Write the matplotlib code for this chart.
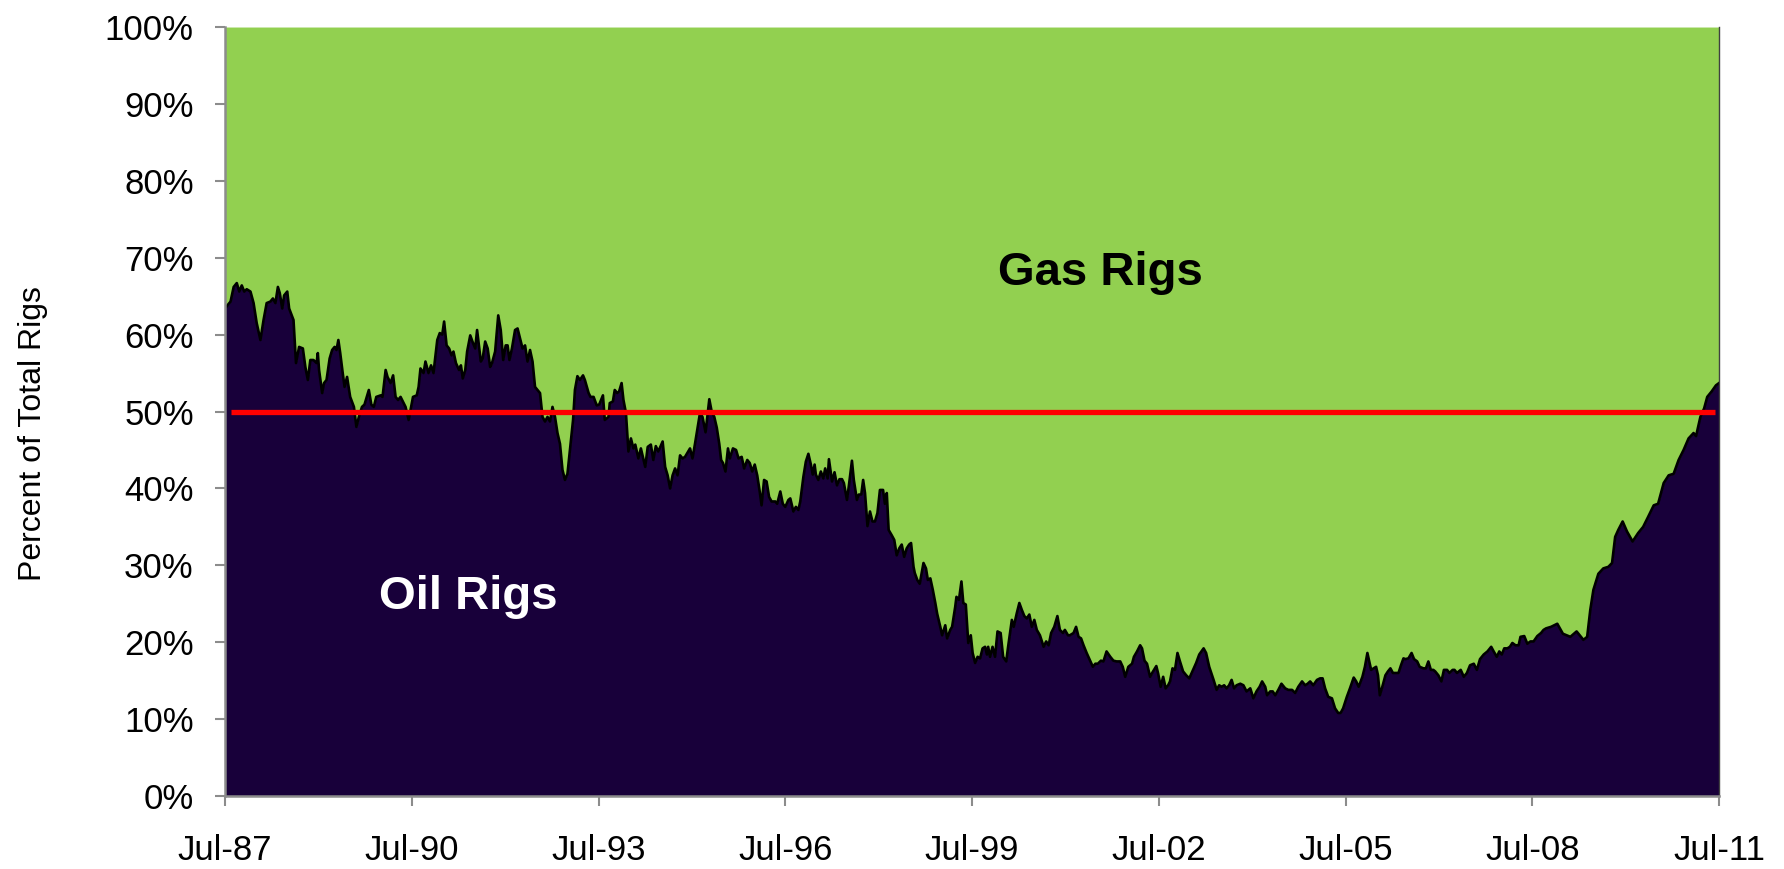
import matplotlib
matplotlib.use('Agg')
import matplotlib.pyplot as plt
import matplotlib.dates as mdates
from matplotlib.ticker import FixedLocator, FuncFormatter
from datetime import datetime

# ---- data (decimal year, oil rigs as % of total rigs) ----
dec_years = [
    1987.50, 1987.52, 1987.59, 1987.64, 1987.69, 1987.73, 1987.77, 1987.81, 1987.85, 1987.91,
    1987.96, 1988.01, 1988.07, 1988.12, 1988.17, 1988.23, 1988.27, 1988.31, 1988.35, 1988.38,
    1988.42, 1988.45, 1988.50, 1988.53, 1988.60, 1988.64, 1988.69, 1988.75, 1988.79, 1988.83,
    1988.87, 1988.92, 1988.97, 1988.99, 1989.01, 1989.06, 1989.09, 1989.13, 1989.18, 1989.22,
    1989.26, 1989.29, 1989.32, 1989.35, 1989.39, 1989.42, 1989.46, 1989.51, 1989.57, 1989.61,
    1989.65, 1989.70, 1989.74, 1989.81, 1989.85, 1989.89, 1989.93, 1990.00, 1990.03, 1990.08,
    1990.11, 1990.16, 1990.20, 1990.24, 1990.28, 1990.32, 1990.40, 1990.45,
    1990.52, 1990.58, 1990.61, 1990.64, 1990.69, 1990.72, 1990.77, 1990.81, 1990.85, 1990.87,
    1990.91, 1990.95, 1990.99, 1991.02, 1991.06, 1991.10, 1991.14, 1991.17, 1991.21, 1991.26,
    1991.29, 1991.32, 1991.36, 1991.39, 1991.44, 1991.48, 1991.52, 1991.55, 1991.61, 1991.64,
    1991.68, 1991.72, 1991.76, 1991.79, 1991.84, 1991.89, 1991.93, 1991.97, 1992.01, 1992.04,
    1992.07, 1992.11, 1992.16, 1992.20, 1992.24, 1992.28, 1992.32, 1992.36, 1992.40, 1992.44,
    1992.48, 1992.52, 1992.56, 1992.60, 1992.64, 1992.68, 1992.72, 1992.76, 1992.80, 1992.84,
    1992.88, 1992.92, 1992.96, 1993.00, 1993.04, 1993.09, 1993.12, 1993.16, 1993.20, 1993.25,
    1993.28, 1993.34, 1993.37, 1993.42, 1993.47, 1993.51,
    1993.57, 1993.60, 1993.66, 1993.68, 1993.73, 1993.76, 1993.80, 1993.83, 1993.87, 1993.90,
    1993.94, 1993.98, 1994.02, 1994.06, 1994.09, 1994.14, 1994.18, 1994.25, 1994.29, 1994.34,
    1994.38, 1994.42, 1994.46, 1994.53, 1994.57, 1994.61, 1994.65, 1994.69, 1994.73, 1994.77,
    1994.81, 1994.85, 1994.89, 1994.97, 1995.01, 1995.05, 1995.09, 1995.13, 1995.17, 1995.22,
    1995.25, 1995.28, 1995.32, 1995.36, 1995.40, 1995.44, 1995.47, 1995.50, 1995.54, 1995.58,
    1995.61, 1995.66, 1995.71, 1995.75, 1995.80, 1995.84, 1995.89, 1995.93, 1995.97, 1996.01,
    1996.05, 1996.09, 1996.12, 1996.16, 1996.20, 1996.24, 1996.28, 1996.34, 1996.37, 1996.42,
    1996.46, 1996.50, 1996.55,
    1996.58, 1996.63, 1996.67, 1996.71, 1996.74, 1996.79, 1996.83, 1996.87, 1996.91, 1996.94,
    1996.97, 1996.99, 1997.03, 1997.07, 1997.11, 1997.14, 1997.18, 1997.20, 1997.25, 1997.29,
    1997.33, 1997.37, 1997.41, 1997.44, 1997.49, 1997.52, 1997.57, 1997.60, 1997.65, 1997.68,
    1997.72, 1997.75, 1997.78, 1997.82, 1997.86, 1997.90, 1997.94, 1997.98, 1998.02, 1998.07,
    1998.10, 1998.13, 1998.16, 1998.21, 1998.25, 1998.29, 1998.33, 1998.37, 1998.41, 1998.45,
    1998.49, 1998.52, 1998.56, 1998.58, 1998.62, 1998.66, 1998.72, 1998.76, 1998.79, 1998.83,
    1998.87, 1998.91, 1998.94, 1998.99, 1999.02, 1999.07, 1999.10, 1999.15, 1999.18, 1999.23,
    1999.25, 1999.29, 1999.33, 1999.36, 1999.40, 1999.44, 1999.48, 1999.51, 1999.55, 1999.59,
    1999.63, 1999.67, 1999.71, 1999.74, 1999.76, 1999.79, 1999.83, 1999.87, 1999.91, 1999.96,
    2000.00, 2000.05, 2000.08, 2000.14, 2000.17, 2000.22, 2000.26, 2000.30, 2000.34, 2000.38,
    2000.42, 2000.46, 2000.50, 2000.54, 2000.59, 2000.65, 2000.69, 2000.73, 2000.77, 2000.82,
    2000.87, 2000.91, 2000.96, 2000.99, 2001.04, 2001.07, 2001.13, 2001.17, 2001.21, 2001.25,
    2001.29, 2001.34, 2001.40, 2001.44, 2001.48, 2001.52, 2001.57, 2001.61, 2001.66, 2001.72,
    2001.77, 2001.82, 2001.88, 2001.92, 2001.96, 2002.01, 2002.07, 2002.10, 2002.15, 2002.20,
    2002.23, 2002.27, 2002.31, 2002.36, 2002.40, 2002.46, 2002.49, 2002.53, 2002.57, 2002.61,
    2002.65,
    2002.68, 2002.72, 2002.76, 2002.80, 2002.84, 2002.89, 2002.94, 2002.99, 2003.05, 2003.10,
    2003.15, 2003.22, 2003.26, 2003.31, 2003.38, 2003.43, 2003.47, 2003.51, 2003.55, 2003.59,
    2003.63, 2003.67, 2003.71, 2003.75, 2003.81, 2003.86, 2003.91, 2003.97, 2004.02, 2004.07,
    2004.12, 2004.16, 2004.21, 2004.24, 2004.29, 2004.33, 2004.37, 2004.42, 2004.47, 2004.53,
    2004.58, 2004.64, 2004.69, 2004.74, 2004.80, 2004.85, 2004.89, 2004.93, 2004.98, 2005.04,
    2005.09, 2005.13, 2005.17, 2005.22, 2005.28, 2005.33, 2005.38, 2005.42, 2005.46, 2005.52,
    2005.57, 2005.63, 2005.67, 2005.71,
    2005.77, 2005.81, 2005.85, 2005.88, 2005.91, 2005.95, 2005.99, 2006.02, 2006.05, 2006.09,
    2006.14, 2006.18, 2006.22, 2006.26, 2006.31, 2006.35, 2006.39, 2006.43, 2006.46, 2006.51,
    2006.56, 2006.60, 2006.65, 2006.69, 2006.75, 2006.79, 2006.83, 2006.87, 2006.91, 2006.94,
    2006.99, 2007.04, 2007.08, 2007.13, 2007.17, 2007.22, 2007.25, 2007.29, 2007.35, 2007.40,
    2007.45, 2007.50, 2007.56, 2007.61, 2007.66, 2007.72, 2007.78, 2007.84, 2007.88, 2007.93,
    2007.97, 2008.01, 2008.05, 2008.10, 2008.14, 2008.18, 2008.23, 2008.28, 2008.31, 2008.37,
    2008.42, 2008.47, 2008.52, 2008.58, 2008.64, 2008.68, 2008.72, 2008.80,
    2008.90, 2008.99, 2009.11, 2009.21, 2009.32, 2009.38, 2009.43, 2009.48, 2009.56, 2009.64,
    2009.72, 2009.78, 2009.83, 2009.88, 2009.95, 2010.02, 2010.11, 2010.20, 2010.28, 2010.36,
    2010.45, 2010.52, 2010.61, 2010.69, 2010.77, 2010.85, 2010.93, 2011.01, 2011.09, 2011.13,
    2011.20, 2011.26, 2011.31, 2011.38, 2011.45, 2011.50,
]

oil_share = [
    63.5, 63.6, 64.3, 66.2, 66.7, 65.6, 66.4, 65.6, 65.9, 65.6,
    64.1, 61.5, 59.3, 61.9, 64.1, 64.3, 64.7, 64.1, 66.2, 65.4,
    63.4, 65.1, 65.6, 63.4, 61.9, 56.3, 58.4, 58.2, 55.8, 54.1,
    56.7, 56.7, 56.3, 57.6, 55.4, 52.4, 53.7, 54.1, 56.9, 58.0,
    58.4, 58.0, 59.3, 57.6, 55.0, 53.2, 54.5, 51.9, 50.6, 48.0,
    49.3, 50.6, 50.9, 52.8, 50.9, 50.6, 51.9, 52.1, 51.9, 55.4,
    54.5, 53.7, 54.7, 51.9, 51.5, 51.9, 50.6, 48.9,
    51.9, 52.1, 53.2, 55.6, 55.0, 56.5, 55.0, 56.0, 55.0, 56.5,
    59.3, 60.2, 60.0, 61.7, 58.6, 58.2, 57.3, 57.8, 56.3, 55.4,
    56.0, 54.3, 55.4, 57.8, 59.9, 59.0, 58.2, 60.6, 56.5, 56.9,
    59.1, 58.2, 55.8, 56.3, 57.8, 62.5, 60.6, 56.7, 58.6, 58.6,
    56.7, 58.2, 60.6, 60.8, 59.5, 58.2, 58.6, 56.5, 58.0, 56.5,
    53.2, 52.8, 52.4, 49.3, 48.7, 49.3, 48.7, 50.6, 49.3, 47.2,
    45.8, 42.4, 41.1, 41.9, 45.0, 48.9, 52.8, 54.6, 54.1, 54.7,
    54.1, 52.4, 51.9, 51.9, 50.8, 50.9,
    52.1, 48.9, 49.3, 51.1, 51.3, 52.8, 52.4, 52.6, 53.7, 51.5,
    49.8, 44.8, 46.5, 45.2, 45.7, 43.9, 45.2, 42.8, 45.4, 45.7,
    43.7, 45.5, 44.8, 46.1, 42.8, 41.7, 40.0, 41.7, 42.6, 41.7,
    44.3, 43.9, 44.1, 45.2, 43.9, 45.8, 47.8, 49.8, 49.3, 47.3,
    49.5, 51.6, 49.9, 49.3, 47.9, 45.8, 43.7, 43.3, 42.2, 45.2,
    43.9, 45.2, 45.0, 43.9, 44.1, 42.6, 43.7, 43.3, 42.2, 43.1,
    41.7, 39.6, 37.8, 41.1, 40.9, 38.9, 38.3, 38.3, 38.0, 39.6,
    38.0, 37.6, 38.5,
    38.7, 37.0, 37.6, 37.2, 38.3, 41.5, 43.5, 44.5, 43.1, 41.8,
    43.1, 41.8, 41.1, 42.2, 41.3, 42.6, 41.3, 43.8, 40.9, 42.1,
    40.4, 41.2, 41.2, 40.7, 38.5, 40.3, 43.6, 41.1, 38.5, 39.2,
    39.2, 41.1, 39.4, 35.1, 37.0, 35.7, 35.7, 36.8, 39.8, 39.8,
    38.0, 39.4, 34.6, 33.9, 33.3, 31.3, 32.2, 32.7, 31.1, 32.2,
    32.7, 32.9, 29.8, 29.0, 28.1, 27.6, 30.3, 29.6, 28.1, 28.3,
    26.8, 25.1, 23.7, 22.0, 20.9, 22.2, 20.5, 21.6, 22.0, 24.6,
    25.9, 25.5, 27.9, 25.1, 24.9, 19.9, 20.9, 18.6, 17.3, 18.1,
    17.9, 19.2, 19.4, 18.4, 19.4, 18.1, 19.4, 18.1, 21.4, 21.2,
    18.1, 17.5, 19.4, 22.9, 22.0, 23.8, 25.1, 24.2, 23.4, 23.1,
    23.6, 22.0, 22.9, 21.6, 20.9, 19.4, 20.1, 19.6, 21.2, 22.0,
    23.4, 21.6, 21.2, 21.6, 20.9, 20.9, 21.2, 22.0, 20.7, 20.5,
    19.6, 18.6, 17.5, 16.8, 17.2, 17.2, 17.6, 17.5, 18.8, 18.1,
    17.6, 17.5, 17.5, 16.8, 15.5, 16.8, 17.2, 18.1, 18.8, 19.6,
    19.2, 17.6, 17.2, 15.5, 16.1, 16.9, 15.9, 14.2, 15.5, 14.0,
    14.4,
    14.9, 16.6, 16.4, 18.6, 17.5, 16.2, 15.7, 15.3, 16.4, 17.3,
    18.4, 19.2, 18.6, 16.8, 15.1, 13.8, 14.4, 14.2, 14.4, 14.0,
    14.4, 15.1, 14.0, 14.4, 14.6, 14.4, 13.6, 14.0, 12.7, 13.6,
    14.2, 14.9, 14.2, 13.1, 13.6, 13.6, 13.1, 13.8, 14.6, 14.0,
    13.8, 13.8, 13.4, 14.2, 14.9, 14.4, 14.6, 14.9, 14.4, 15.1,
    15.3, 15.3, 14.0, 12.9, 12.7, 11.4, 10.8, 10.8, 11.4, 12.9,
    14.0, 15.4, 14.9, 14.2,
    15.5, 16.8, 18.6, 17.5, 16.4, 16.6, 16.8, 15.7, 13.1, 14.2,
    15.7, 16.2, 16.6, 16.0, 16.0, 16.0, 17.0, 17.9, 17.8, 17.9,
    18.6, 17.8, 17.5, 16.8, 16.6, 16.6, 17.5, 16.4, 16.4, 16.2,
    15.7, 14.9, 16.4, 16.4, 16.0, 16.4, 16.4, 16.0, 16.4, 15.5,
    16.0, 17.0, 17.2, 16.4, 17.8, 18.4, 18.8, 19.4, 18.8, 18.1,
    18.8, 18.4, 19.2, 19.2, 19.4, 19.9, 19.6, 19.6, 20.7, 20.8,
    19.8, 20.1, 20.1, 20.8, 21.2, 21.6, 21.8, 22.0,
    22.4, 21.1, 20.7, 21.4, 20.3, 20.7, 24.2, 26.8, 28.9, 29.6,
    29.8, 30.3, 33.7, 34.6, 35.7, 34.4, 33.1, 34.2, 35.0, 36.3,
    37.8, 38.0, 40.7, 41.7, 41.9, 43.7, 45.0, 46.5, 47.2, 46.8,
    49.3, 50.4, 51.9, 52.6, 53.4, 53.7,
]

tick_years = [1987, 1990, 1993, 1996, 1999, 2002, 2005, 2008, 2011]
y_ticks = [0, 10, 20, 30, 40, 50, 60, 70, 80, 90, 100]
threshold_level = 50
threshold_start, threshold_end = 1987.60, 2011.44


def to_date(y):
    yr = int(y)
    start = datetime(yr, 1, 1)
    end = datetime(yr + 1, 1, 1)
    return start + (end - start) * (y - yr)


dates = [to_date(y) for y in dec_years]
total = [100] * len(dates)

plt.rcParams['font.family'] = ['Liberation Sans', 'DejaVu Sans']

OIL = '#18003A'
GAS = '#92D050'
AXIS = '#8C8C8C'

fig = plt.figure(figsize=(17.84, 8.69), dpi=100)
ax = fig.add_axes([0.1261, 0.0840, 0.8375, 0.8849])

ax.fill_between(dates, oil_share, total, color=GAS, linewidth=0)
ax.fill_between(dates, 0, oil_share, color=OIL, linewidth=0)
ax.plot(dates, oil_share, color='black', linewidth=1.9, solid_joinstyle='round')

ax.hlines(threshold_level, to_date(threshold_start), to_date(threshold_end),
          color='#FF0000', linewidth=3.8, zorder=5)

ax.set_xlim(to_date(1987.5), to_date(2011.5))
ax.set_ylim(0, 100)

ax.xaxis.set_major_locator(FixedLocator([mdates.date2num(to_date(y + 0.5)) for y in tick_years]))
ax.xaxis.set_major_formatter(mdates.DateFormatter('%b-%y'))
ax.yaxis.set_major_locator(FixedLocator(y_ticks))
ax.yaxis.set_major_formatter(FuncFormatter(lambda v, p: f'{int(round(v))}%'))

ax.spines['top'].set_visible(False)
ax.spines['right'].set_color('#404040')
ax.spines['right'].set_linewidth(1.0)
for side in ['left', 'bottom']:
    ax.spines[side].set_color(AXIS)
    ax.spines[side].set_linewidth(1.8)

ax.tick_params(axis='both', direction='out', length=7.5, width=1.5, color=AXIS,
               labelsize=25, labelcolor='black')
ax.tick_params(axis='y', pad=15)
ax.tick_params(axis='x', pad=20)

fig.text(33 / 1784, 1 - 434 / 869, 'Percent of Total Rigs', rotation=90,
         ha='center', va='center', fontsize=23, color='black')

ax.text(0.586, 0.680, 'Gas Rigs', transform=ax.transAxes, ha='center', va='center',
        fontsize=34, fontweight='bold', color='black')
ax.text(0.163, 0.259, 'Oil Rigs', transform=ax.transAxes, ha='center', va='center',
        fontsize=34, fontweight='bold', color='white')

fig.savefig('out.png', dpi=100)
